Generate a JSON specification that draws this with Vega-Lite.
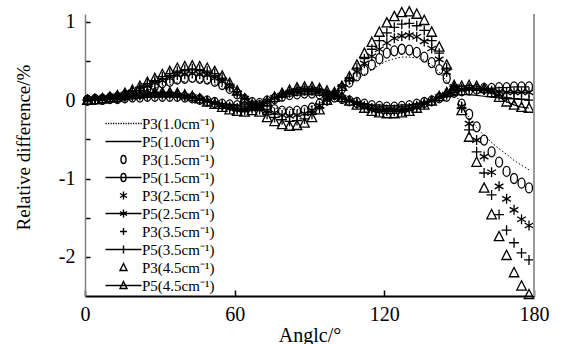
{
"$schema":"https://vega.github.io/schema/vega-lite/v6.json",
"width":449,"height":282,
"autosize":{"type":"none"},
"padding":{"left":85,"top":14,"right":32,"bottom":48},
"background":"white",
"config":{"view":{"stroke":null},"font":"Liberation Serif","axis":{"labelFont":"Liberation Serif","titleFont":"Liberation Serif"},"legend":{"labelFont":"Liberation Serif"}},
"resolve":{"scale":{"shape":"independent","strokeWidth":"independent"},"legend":{"shape":"independent"}},
"data":{"values":[
{"s":"P3(1.0cm⁻¹)","a":1,"v":0},{"s":"P3(1.0cm⁻¹)","a":4,"v":0.01},{"s":"P3(1.0cm⁻¹)","a":7,"v":0.01},{"s":"P3(1.0cm⁻¹)","a":10,"v":0.02},{"s":"P3(1.0cm⁻¹)","a":13,"v":0.03},{"s":"P3(1.0cm⁻¹)","a":16,"v":0.05},{"s":"P3(1.0cm⁻¹)","a":19,"v":0.07},{"s":"P3(1.0cm⁻¹)","a":22,"v":0.1},{"s":"P3(1.0cm⁻¹)","a":25,"v":0.13},{"s":"P3(1.0cm⁻¹)","a":28,"v":0.15},{"s":"P3(1.0cm⁻¹)","a":31,"v":0.18},{"s":"P3(1.0cm⁻¹)","a":34,"v":0.2},{"s":"P3(1.0cm⁻¹)","a":37,"v":0.23},{"s":"P3(1.0cm⁻¹)","a":40,"v":0.24},{"s":"P3(1.0cm⁻¹)","a":43,"v":0.24},{"s":"P3(1.0cm⁻¹)","a":46,"v":0.24},{"s":"P3(1.0cm⁻¹)","a":49,"v":0.23},{"s":"P3(1.0cm⁻¹)","a":52,"v":0.2},{"s":"P3(1.0cm⁻¹)","a":55,"v":0.17},{"s":"P3(1.0cm⁻¹)","a":58,"v":0.12},{"s":"P3(1.0cm⁻¹)","a":61,"v":0.07},{"s":"P3(1.0cm⁻¹)","a":64,"v":0.01},{"s":"P3(1.0cm⁻¹)","a":67,"v":-0.03},{"s":"P3(1.0cm⁻¹)","a":70,"v":-0.05},{"s":"P3(1.0cm⁻¹)","a":73,"v":-0.08},{"s":"P3(1.0cm⁻¹)","a":76,"v":-0.1},{"s":"P3(1.0cm⁻¹)","a":79,"v":-0.11},{"s":"P3(1.0cm⁻¹)","a":82,"v":-0.12},{"s":"P3(1.0cm⁻¹)","a":85,"v":-0.12},{"s":"P3(1.0cm⁻¹)","a":88,"v":-0.1},{"s":"P3(1.0cm⁻¹)","a":91,"v":-0.08},{"s":"P3(1.0cm⁻¹)","a":94,"v":-0.04},{"s":"P3(1.0cm⁻¹)","a":97,"v":0},{"s":"P3(1.0cm⁻¹)","a":100,"v":0.06},{"s":"P3(1.0cm⁻¹)","a":103,"v":0.13},{"s":"P3(1.0cm⁻¹)","a":106,"v":0.2},{"s":"P3(1.0cm⁻¹)","a":109,"v":0.27},{"s":"P3(1.0cm⁻¹)","a":112,"v":0.33},{"s":"P3(1.0cm⁻¹)","a":115,"v":0.39},{"s":"P3(1.0cm⁻¹)","a":118,"v":0.45},{"s":"P3(1.0cm⁻¹)","a":121,"v":0.5},{"s":"P3(1.0cm⁻¹)","a":124,"v":0.53},{"s":"P3(1.0cm⁻¹)","a":127,"v":0.55},{"s":"P3(1.0cm⁻¹)","a":130,"v":0.55},{"s":"P3(1.0cm⁻¹)","a":133,"v":0.54},{"s":"P3(1.0cm⁻¹)","a":136,"v":0.51},{"s":"P3(1.0cm⁻¹)","a":139,"v":0.45},{"s":"P3(1.0cm⁻¹)","a":142,"v":0.36},{"s":"P3(1.0cm⁻¹)","a":145,"v":0.24},{"s":"P3(1.0cm⁻¹)","a":148,"v":0.1},{"s":"P3(1.0cm⁻¹)","a":151,"v":-0.06},{"s":"P3(1.0cm⁻¹)","a":154,"v":-0.22},{"s":"P3(1.0cm⁻¹)","a":157,"v":-0.35},{"s":"P3(1.0cm⁻¹)","a":160,"v":-0.45},{"s":"P3(1.0cm⁻¹)","a":163,"v":-0.54},{"s":"P3(1.0cm⁻¹)","a":166,"v":-0.62},{"s":"P3(1.0cm⁻¹)","a":169,"v":-0.69},{"s":"P3(1.0cm⁻¹)","a":172,"v":-0.77},{"s":"P3(1.0cm⁻¹)","a":175,"v":-0.83},{"s":"P3(1.0cm⁻¹)","a":178,"v":-0.89},
{"s":"P5(1.0cm⁻¹)","a":1,"v":0},{"s":"P5(1.0cm⁻¹)","a":4,"v":0},{"s":"P5(1.0cm⁻¹)","a":7,"v":0.01},{"s":"P5(1.0cm⁻¹)","a":10,"v":0.01},{"s":"P5(1.0cm⁻¹)","a":13,"v":0.02},{"s":"P5(1.0cm⁻¹)","a":16,"v":0.02},{"s":"P5(1.0cm⁻¹)","a":19,"v":0.03},{"s":"P5(1.0cm⁻¹)","a":22,"v":0.03},{"s":"P5(1.0cm⁻¹)","a":25,"v":0.04},{"s":"P5(1.0cm⁻¹)","a":28,"v":0.04},{"s":"P5(1.0cm⁻¹)","a":31,"v":0.04},{"s":"P5(1.0cm⁻¹)","a":34,"v":0.04},{"s":"P5(1.0cm⁻¹)","a":37,"v":0.04},{"s":"P5(1.0cm⁻¹)","a":40,"v":0.03},{"s":"P5(1.0cm⁻¹)","a":43,"v":0.02},{"s":"P5(1.0cm⁻¹)","a":46,"v":0.01},{"s":"P5(1.0cm⁻¹)","a":49,"v":-0.01},{"s":"P5(1.0cm⁻¹)","a":52,"v":-0.02},{"s":"P5(1.0cm⁻¹)","a":55,"v":-0.04},{"s":"P5(1.0cm⁻¹)","a":58,"v":-0.05},{"s":"P5(1.0cm⁻¹)","a":61,"v":-0.06},{"s":"P5(1.0cm⁻¹)","a":64,"v":-0.06},{"s":"P5(1.0cm⁻¹)","a":67,"v":-0.05},{"s":"P5(1.0cm⁻¹)","a":70,"v":-0.03},{"s":"P5(1.0cm⁻¹)","a":73,"v":-0.01},{"s":"P5(1.0cm⁻¹)","a":76,"v":0.02},{"s":"P5(1.0cm⁻¹)","a":79,"v":0.04},{"s":"P5(1.0cm⁻¹)","a":82,"v":0.05},{"s":"P5(1.0cm⁻¹)","a":85,"v":0.06},{"s":"P5(1.0cm⁻¹)","a":88,"v":0.07},{"s":"P5(1.0cm⁻¹)","a":91,"v":0.07},{"s":"P5(1.0cm⁻¹)","a":94,"v":0.06},{"s":"P5(1.0cm⁻¹)","a":97,"v":0.05},{"s":"P5(1.0cm⁻¹)","a":100,"v":0.03},{"s":"P5(1.0cm⁻¹)","a":103,"v":0.02},{"s":"P5(1.0cm⁻¹)","a":106,"v":0},{"s":"P5(1.0cm⁻¹)","a":109,"v":-0.02},{"s":"P5(1.0cm⁻¹)","a":112,"v":-0.04},{"s":"P5(1.0cm⁻¹)","a":115,"v":-0.06},{"s":"P5(1.0cm⁻¹)","a":118,"v":-0.06},{"s":"P5(1.0cm⁻¹)","a":121,"v":-0.07},{"s":"P5(1.0cm⁻¹)","a":124,"v":-0.07},{"s":"P5(1.0cm⁻¹)","a":127,"v":-0.06},{"s":"P5(1.0cm⁻¹)","a":130,"v":-0.06},{"s":"P5(1.0cm⁻¹)","a":133,"v":-0.04},{"s":"P5(1.0cm⁻¹)","a":136,"v":-0.02},{"s":"P5(1.0cm⁻¹)","a":139,"v":0},{"s":"P5(1.0cm⁻¹)","a":142,"v":0.02},{"s":"P5(1.0cm⁻¹)","a":145,"v":0.04},{"s":"P5(1.0cm⁻¹)","a":148,"v":0.06},{"s":"P5(1.0cm⁻¹)","a":151,"v":0.07},{"s":"P5(1.0cm⁻¹)","a":154,"v":0.07},{"s":"P5(1.0cm⁻¹)","a":157,"v":0.06},{"s":"P5(1.0cm⁻¹)","a":160,"v":0.05},{"s":"P5(1.0cm⁻¹)","a":163,"v":0.04},{"s":"P5(1.0cm⁻¹)","a":166,"v":0.03},{"s":"P5(1.0cm⁻¹)","a":169,"v":0.02},{"s":"P5(1.0cm⁻¹)","a":172,"v":0.02},{"s":"P5(1.0cm⁻¹)","a":175,"v":0.01},{"s":"P5(1.0cm⁻¹)","a":178,"v":0.01},
{"s":"P3(1.5cm⁻¹)","a":1,"v":0},{"s":"P3(1.5cm⁻¹)","a":4,"v":0.01},{"s":"P3(1.5cm⁻¹)","a":7,"v":0.01},{"s":"P3(1.5cm⁻¹)","a":10,"v":0.03},{"s":"P3(1.5cm⁻¹)","a":13,"v":0.04},{"s":"P3(1.5cm⁻¹)","a":16,"v":0.06},{"s":"P3(1.5cm⁻¹)","a":19,"v":0.09},{"s":"P3(1.5cm⁻¹)","a":22,"v":0.12},{"s":"P3(1.5cm⁻¹)","a":25,"v":0.15},{"s":"P3(1.5cm⁻¹)","a":28,"v":0.18},{"s":"P3(1.5cm⁻¹)","a":31,"v":0.22},{"s":"P3(1.5cm⁻¹)","a":34,"v":0.24},{"s":"P3(1.5cm⁻¹)","a":37,"v":0.27},{"s":"P3(1.5cm⁻¹)","a":40,"v":0.28},{"s":"P3(1.5cm⁻¹)","a":43,"v":0.29},{"s":"P3(1.5cm⁻¹)","a":46,"v":0.28},{"s":"P3(1.5cm⁻¹)","a":49,"v":0.27},{"s":"P3(1.5cm⁻¹)","a":52,"v":0.24},{"s":"P3(1.5cm⁻¹)","a":55,"v":0.2},{"s":"P3(1.5cm⁻¹)","a":58,"v":0.15},{"s":"P3(1.5cm⁻¹)","a":61,"v":0.08},{"s":"P3(1.5cm⁻¹)","a":64,"v":0.01},{"s":"P3(1.5cm⁻¹)","a":67,"v":-0.03},{"s":"P3(1.5cm⁻¹)","a":70,"v":-0.07},{"s":"P3(1.5cm⁻¹)","a":73,"v":-0.1},{"s":"P3(1.5cm⁻¹)","a":76,"v":-0.12},{"s":"P3(1.5cm⁻¹)","a":79,"v":-0.14},{"s":"P3(1.5cm⁻¹)","a":82,"v":-0.15},{"s":"P3(1.5cm⁻¹)","a":85,"v":-0.14},{"s":"P3(1.5cm⁻¹)","a":88,"v":-0.13},{"s":"P3(1.5cm⁻¹)","a":91,"v":-0.1},{"s":"P3(1.5cm⁻¹)","a":94,"v":-0.05},{"s":"P3(1.5cm⁻¹)","a":97,"v":0},{"s":"P3(1.5cm⁻¹)","a":100,"v":0.07},{"s":"P3(1.5cm⁻¹)","a":103,"v":0.15},{"s":"P3(1.5cm⁻¹)","a":106,"v":0.23},{"s":"P3(1.5cm⁻¹)","a":109,"v":0.31},{"s":"P3(1.5cm⁻¹)","a":112,"v":0.38},{"s":"P3(1.5cm⁻¹)","a":115,"v":0.45},{"s":"P3(1.5cm⁻¹)","a":118,"v":0.53},{"s":"P3(1.5cm⁻¹)","a":121,"v":0.6},{"s":"P3(1.5cm⁻¹)","a":124,"v":0.63},{"s":"P3(1.5cm⁻¹)","a":127,"v":0.65},{"s":"P3(1.5cm⁻¹)","a":130,"v":0.64},{"s":"P3(1.5cm⁻¹)","a":133,"v":0.61},{"s":"P3(1.5cm⁻¹)","a":136,"v":0.55},{"s":"P3(1.5cm⁻¹)","a":139,"v":0.48},{"s":"P3(1.5cm⁻¹)","a":142,"v":0.39},{"s":"P3(1.5cm⁻¹)","a":145,"v":0.28},{"s":"P3(1.5cm⁻¹)","a":148,"v":0.13},{"s":"P3(1.5cm⁻¹)","a":151,"v":-0.05},{"s":"P3(1.5cm⁻¹)","a":154,"v":-0.18},{"s":"P3(1.5cm⁻¹)","a":157,"v":-0.34},{"s":"P3(1.5cm⁻¹)","a":160,"v":-0.51},{"s":"P3(1.5cm⁻¹)","a":163,"v":-0.66},{"s":"P3(1.5cm⁻¹)","a":166,"v":-0.79},{"s":"P3(1.5cm⁻¹)","a":169,"v":-0.91},{"s":"P3(1.5cm⁻¹)","a":172,"v":-1.0},{"s":"P3(1.5cm⁻¹)","a":175,"v":-1.06},{"s":"P3(1.5cm⁻¹)","a":178,"v":-1.12},
{"s":"P5(1.5cm⁻¹)","a":1,"v":0},{"s":"P5(1.5cm⁻¹)","a":4,"v":0.01},{"s":"P5(1.5cm⁻¹)","a":7,"v":0.01},{"s":"P5(1.5cm⁻¹)","a":10,"v":0.02},{"s":"P5(1.5cm⁻¹)","a":13,"v":0.02},{"s":"P5(1.5cm⁻¹)","a":16,"v":0.03},{"s":"P5(1.5cm⁻¹)","a":19,"v":0.04},{"s":"P5(1.5cm⁻¹)","a":22,"v":0.04},{"s":"P5(1.5cm⁻¹)","a":25,"v":0.05},{"s":"P5(1.5cm⁻¹)","a":28,"v":0.05},{"s":"P5(1.5cm⁻¹)","a":31,"v":0.05},{"s":"P5(1.5cm⁻¹)","a":34,"v":0.05},{"s":"P5(1.5cm⁻¹)","a":37,"v":0.05},{"s":"P5(1.5cm⁻¹)","a":40,"v":0.04},{"s":"P5(1.5cm⁻¹)","a":43,"v":0.03},{"s":"P5(1.5cm⁻¹)","a":46,"v":0.01},{"s":"P5(1.5cm⁻¹)","a":49,"v":-0.01},{"s":"P5(1.5cm⁻¹)","a":52,"v":-0.03},{"s":"P5(1.5cm⁻¹)","a":55,"v":-0.05},{"s":"P5(1.5cm⁻¹)","a":58,"v":-0.06},{"s":"P5(1.5cm⁻¹)","a":61,"v":-0.07},{"s":"P5(1.5cm⁻¹)","a":64,"v":-0.08},{"s":"P5(1.5cm⁻¹)","a":67,"v":-0.07},{"s":"P5(1.5cm⁻¹)","a":70,"v":-0.04},{"s":"P5(1.5cm⁻¹)","a":73,"v":-0.01},{"s":"P5(1.5cm⁻¹)","a":76,"v":0.02},{"s":"P5(1.5cm⁻¹)","a":79,"v":0.05},{"s":"P5(1.5cm⁻¹)","a":82,"v":0.07},{"s":"P5(1.5cm⁻¹)","a":85,"v":0.08},{"s":"P5(1.5cm⁻¹)","a":88,"v":0.09},{"s":"P5(1.5cm⁻¹)","a":91,"v":0.09},{"s":"P5(1.5cm⁻¹)","a":94,"v":0.08},{"s":"P5(1.5cm⁻¹)","a":97,"v":0.06},{"s":"P5(1.5cm⁻¹)","a":100,"v":0.04},{"s":"P5(1.5cm⁻¹)","a":103,"v":0.02},{"s":"P5(1.5cm⁻¹)","a":106,"v":-0.01},{"s":"P5(1.5cm⁻¹)","a":109,"v":-0.03},{"s":"P5(1.5cm⁻¹)","a":112,"v":-0.05},{"s":"P5(1.5cm⁻¹)","a":115,"v":-0.07},{"s":"P5(1.5cm⁻¹)","a":118,"v":-0.08},{"s":"P5(1.5cm⁻¹)","a":121,"v":-0.09},{"s":"P5(1.5cm⁻¹)","a":124,"v":-0.09},{"s":"P5(1.5cm⁻¹)","a":127,"v":-0.08},{"s":"P5(1.5cm⁻¹)","a":130,"v":-0.07},{"s":"P5(1.5cm⁻¹)","a":133,"v":-0.05},{"s":"P5(1.5cm⁻¹)","a":136,"v":-0.03},{"s":"P5(1.5cm⁻¹)","a":139,"v":-0.01},{"s":"P5(1.5cm⁻¹)","a":142,"v":0.03},{"s":"P5(1.5cm⁻¹)","a":145,"v":0.05},{"s":"P5(1.5cm⁻¹)","a":148,"v":0.1},{"s":"P5(1.5cm⁻¹)","a":151,"v":0.12},{"s":"P5(1.5cm⁻¹)","a":154,"v":0.13},{"s":"P5(1.5cm⁻¹)","a":157,"v":0.14},{"s":"P5(1.5cm⁻¹)","a":160,"v":0.15},{"s":"P5(1.5cm⁻¹)","a":163,"v":0.15},{"s":"P5(1.5cm⁻¹)","a":166,"v":0.16},{"s":"P5(1.5cm⁻¹)","a":169,"v":0.16},{"s":"P5(1.5cm⁻¹)","a":172,"v":0.17},{"s":"P5(1.5cm⁻¹)","a":175,"v":0.17},{"s":"P5(1.5cm⁻¹)","a":178,"v":0.17},
{"s":"P3(2.5cm⁻¹)","a":1,"v":0},{"s":"P3(2.5cm⁻¹)","a":4,"v":0.01},{"s":"P3(2.5cm⁻¹)","a":7,"v":0.02},{"s":"P3(2.5cm⁻¹)","a":10,"v":0.03},{"s":"P3(2.5cm⁻¹)","a":13,"v":0.05},{"s":"P3(2.5cm⁻¹)","a":16,"v":0.07},{"s":"P3(2.5cm⁻¹)","a":19,"v":0.1},{"s":"P3(2.5cm⁻¹)","a":22,"v":0.14},{"s":"P3(2.5cm⁻¹)","a":25,"v":0.18},{"s":"P3(2.5cm⁻¹)","a":28,"v":0.22},{"s":"P3(2.5cm⁻¹)","a":31,"v":0.25},{"s":"P3(2.5cm⁻¹)","a":34,"v":0.28},{"s":"P3(2.5cm⁻¹)","a":37,"v":0.32},{"s":"P3(2.5cm⁻¹)","a":40,"v":0.33},{"s":"P3(2.5cm⁻¹)","a":43,"v":0.34},{"s":"P3(2.5cm⁻¹)","a":46,"v":0.33},{"s":"P3(2.5cm⁻¹)","a":49,"v":0.32},{"s":"P3(2.5cm⁻¹)","a":52,"v":0.28},{"s":"P3(2.5cm⁻¹)","a":55,"v":0.24},{"s":"P3(2.5cm⁻¹)","a":58,"v":0.17},{"s":"P3(2.5cm⁻¹)","a":61,"v":0.09},{"s":"P3(2.5cm⁻¹)","a":64,"v":0.02},{"s":"P3(2.5cm⁻¹)","a":67,"v":-0.04},{"s":"P3(2.5cm⁻¹)","a":70,"v":-0.09},{"s":"P3(2.5cm⁻¹)","a":73,"v":-0.13},{"s":"P3(2.5cm⁻¹)","a":76,"v":-0.16},{"s":"P3(2.5cm⁻¹)","a":79,"v":-0.19},{"s":"P3(2.5cm⁻¹)","a":82,"v":-0.2},{"s":"P3(2.5cm⁻¹)","a":85,"v":-0.19},{"s":"P3(2.5cm⁻¹)","a":88,"v":-0.17},{"s":"P3(2.5cm⁻¹)","a":91,"v":-0.13},{"s":"P3(2.5cm⁻¹)","a":94,"v":-0.07},{"s":"P3(2.5cm⁻¹)","a":97,"v":0},{"s":"P3(2.5cm⁻¹)","a":100,"v":0.08},{"s":"P3(2.5cm⁻¹)","a":103,"v":0.17},{"s":"P3(2.5cm⁻¹)","a":106,"v":0.26},{"s":"P3(2.5cm⁻¹)","a":109,"v":0.36},{"s":"P3(2.5cm⁻¹)","a":112,"v":0.47},{"s":"P3(2.5cm⁻¹)","a":115,"v":0.56},{"s":"P3(2.5cm⁻¹)","a":118,"v":0.65},{"s":"P3(2.5cm⁻¹)","a":121,"v":0.73},{"s":"P3(2.5cm⁻¹)","a":124,"v":0.79},{"s":"P3(2.5cm⁻¹)","a":127,"v":0.82},{"s":"P3(2.5cm⁻¹)","a":130,"v":0.83},{"s":"P3(2.5cm⁻¹)","a":133,"v":0.81},{"s":"P3(2.5cm⁻¹)","a":136,"v":0.75},{"s":"P3(2.5cm⁻¹)","a":139,"v":0.66},{"s":"P3(2.5cm⁻¹)","a":142,"v":0.52},{"s":"P3(2.5cm⁻¹)","a":145,"v":0.36},{"s":"P3(2.5cm⁻¹)","a":148,"v":0.17},{"s":"P3(2.5cm⁻¹)","a":151,"v":-0.08},{"s":"P3(2.5cm⁻¹)","a":154,"v":-0.3},{"s":"P3(2.5cm⁻¹)","a":157,"v":-0.51},{"s":"P3(2.5cm⁻¹)","a":160,"v":-0.72},{"s":"P3(2.5cm⁻¹)","a":163,"v":-0.92},{"s":"P3(2.5cm⁻¹)","a":166,"v":-1.1},{"s":"P3(2.5cm⁻¹)","a":169,"v":-1.26},{"s":"P3(2.5cm⁻¹)","a":172,"v":-1.4},{"s":"P3(2.5cm⁻¹)","a":175,"v":-1.52},{"s":"P3(2.5cm⁻¹)","a":178,"v":-1.6},
{"s":"P5(2.5cm⁻¹)","a":1,"v":0},{"s":"P5(2.5cm⁻¹)","a":4,"v":0.01},{"s":"P5(2.5cm⁻¹)","a":7,"v":0.01},{"s":"P5(2.5cm⁻¹)","a":10,"v":0.02},{"s":"P5(2.5cm⁻¹)","a":13,"v":0.03},{"s":"P5(2.5cm⁻¹)","a":16,"v":0.04},{"s":"P5(2.5cm⁻¹)","a":19,"v":0.05},{"s":"P5(2.5cm⁻¹)","a":22,"v":0.06},{"s":"P5(2.5cm⁻¹)","a":25,"v":0.06},{"s":"P5(2.5cm⁻¹)","a":28,"v":0.07},{"s":"P5(2.5cm⁻¹)","a":31,"v":0.07},{"s":"P5(2.5cm⁻¹)","a":34,"v":0.07},{"s":"P5(2.5cm⁻¹)","a":37,"v":0.06},{"s":"P5(2.5cm⁻¹)","a":40,"v":0.05},{"s":"P5(2.5cm⁻¹)","a":43,"v":0.04},{"s":"P5(2.5cm⁻¹)","a":46,"v":0.01},{"s":"P5(2.5cm⁻¹)","a":49,"v":-0.01},{"s":"P5(2.5cm⁻¹)","a":52,"v":-0.04},{"s":"P5(2.5cm⁻¹)","a":55,"v":-0.06},{"s":"P5(2.5cm⁻¹)","a":58,"v":-0.08},{"s":"P5(2.5cm⁻¹)","a":61,"v":-0.1},{"s":"P5(2.5cm⁻¹)","a":64,"v":-0.11},{"s":"P5(2.5cm⁻¹)","a":67,"v":-0.09},{"s":"P5(2.5cm⁻¹)","a":70,"v":-0.06},{"s":"P5(2.5cm⁻¹)","a":73,"v":-0.01},{"s":"P5(2.5cm⁻¹)","a":76,"v":0.03},{"s":"P5(2.5cm⁻¹)","a":79,"v":0.06},{"s":"P5(2.5cm⁻¹)","a":82,"v":0.09},{"s":"P5(2.5cm⁻¹)","a":85,"v":0.11},{"s":"P5(2.5cm⁻¹)","a":88,"v":0.12},{"s":"P5(2.5cm⁻¹)","a":91,"v":0.12},{"s":"P5(2.5cm⁻¹)","a":94,"v":0.11},{"s":"P5(2.5cm⁻¹)","a":97,"v":0.08},{"s":"P5(2.5cm⁻¹)","a":100,"v":0.06},{"s":"P5(2.5cm⁻¹)","a":103,"v":0.03},{"s":"P5(2.5cm⁻¹)","a":106,"v":-0.01},{"s":"P5(2.5cm⁻¹)","a":109,"v":-0.04},{"s":"P5(2.5cm⁻¹)","a":112,"v":-0.07},{"s":"P5(2.5cm⁻¹)","a":115,"v":-0.1},{"s":"P5(2.5cm⁻¹)","a":118,"v":-0.11},{"s":"P5(2.5cm⁻¹)","a":121,"v":-0.12},{"s":"P5(2.5cm⁻¹)","a":124,"v":-0.12},{"s":"P5(2.5cm⁻¹)","a":127,"v":-0.11},{"s":"P5(2.5cm⁻¹)","a":130,"v":-0.1},{"s":"P5(2.5cm⁻¹)","a":133,"v":-0.07},{"s":"P5(2.5cm⁻¹)","a":136,"v":-0.04},{"s":"P5(2.5cm⁻¹)","a":139,"v":-0.01},{"s":"P5(2.5cm⁻¹)","a":142,"v":0.04},{"s":"P5(2.5cm⁻¹)","a":145,"v":0.07},{"s":"P5(2.5cm⁻¹)","a":148,"v":0.11},{"s":"P5(2.5cm⁻¹)","a":151,"v":0.13},{"s":"P5(2.5cm⁻¹)","a":154,"v":0.14},{"s":"P5(2.5cm⁻¹)","a":157,"v":0.14},{"s":"P5(2.5cm⁻¹)","a":160,"v":0.13},{"s":"P5(2.5cm⁻¹)","a":163,"v":0.12},{"s":"P5(2.5cm⁻¹)","a":166,"v":0.11},{"s":"P5(2.5cm⁻¹)","a":169,"v":0.1},{"s":"P5(2.5cm⁻¹)","a":172,"v":0.1},{"s":"P5(2.5cm⁻¹)","a":175,"v":0.1},{"s":"P5(2.5cm⁻¹)","a":178,"v":0.1},
{"s":"P3(3.5cm⁻¹)","a":1,"v":0},{"s":"P3(3.5cm⁻¹)","a":4,"v":0.01},{"s":"P3(3.5cm⁻¹)","a":7,"v":0.02},{"s":"P3(3.5cm⁻¹)","a":10,"v":0.04},{"s":"P3(3.5cm⁻¹)","a":13,"v":0.05},{"s":"P3(3.5cm⁻¹)","a":16,"v":0.08},{"s":"P3(3.5cm⁻¹)","a":19,"v":0.12},{"s":"P3(3.5cm⁻¹)","a":22,"v":0.16},{"s":"P3(3.5cm⁻¹)","a":25,"v":0.21},{"s":"P3(3.5cm⁻¹)","a":28,"v":0.25},{"s":"P3(3.5cm⁻¹)","a":31,"v":0.3},{"s":"P3(3.5cm⁻¹)","a":34,"v":0.34},{"s":"P3(3.5cm⁻¹)","a":37,"v":0.37},{"s":"P3(3.5cm⁻¹)","a":40,"v":0.39},{"s":"P3(3.5cm⁻¹)","a":43,"v":0.4},{"s":"P3(3.5cm⁻¹)","a":46,"v":0.39},{"s":"P3(3.5cm⁻¹)","a":49,"v":0.37},{"s":"P3(3.5cm⁻¹)","a":52,"v":0.34},{"s":"P3(3.5cm⁻¹)","a":55,"v":0.28},{"s":"P3(3.5cm⁻¹)","a":58,"v":0.2},{"s":"P3(3.5cm⁻¹)","a":61,"v":0.11},{"s":"P3(3.5cm⁻¹)","a":64,"v":0.02},{"s":"P3(3.5cm⁻¹)","a":67,"v":-0.06},{"s":"P3(3.5cm⁻¹)","a":70,"v":-0.12},{"s":"P3(3.5cm⁻¹)","a":73,"v":-0.18},{"s":"P3(3.5cm⁻¹)","a":76,"v":-0.22},{"s":"P3(3.5cm⁻¹)","a":79,"v":-0.25},{"s":"P3(3.5cm⁻¹)","a":82,"v":-0.27},{"s":"P3(3.5cm⁻¹)","a":85,"v":-0.26},{"s":"P3(3.5cm⁻¹)","a":88,"v":-0.24},{"s":"P3(3.5cm⁻¹)","a":91,"v":-0.18},{"s":"P3(3.5cm⁻¹)","a":94,"v":-0.1},{"s":"P3(3.5cm⁻¹)","a":97,"v":0},{"s":"P3(3.5cm⁻¹)","a":100,"v":0.09},{"s":"P3(3.5cm⁻¹)","a":103,"v":0.18},{"s":"P3(3.5cm⁻¹)","a":106,"v":0.28},{"s":"P3(3.5cm⁻¹)","a":109,"v":0.41},{"s":"P3(3.5cm⁻¹)","a":112,"v":0.53},{"s":"P3(3.5cm⁻¹)","a":115,"v":0.65},{"s":"P3(3.5cm⁻¹)","a":118,"v":0.76},{"s":"P3(3.5cm⁻¹)","a":121,"v":0.86},{"s":"P3(3.5cm⁻¹)","a":124,"v":0.93},{"s":"P3(3.5cm⁻¹)","a":127,"v":0.97},{"s":"P3(3.5cm⁻¹)","a":130,"v":0.98},{"s":"P3(3.5cm⁻¹)","a":133,"v":0.95},{"s":"P3(3.5cm⁻¹)","a":136,"v":0.89},{"s":"P3(3.5cm⁻¹)","a":139,"v":0.76},{"s":"P3(3.5cm⁻¹)","a":142,"v":0.6},{"s":"P3(3.5cm⁻¹)","a":145,"v":0.41},{"s":"P3(3.5cm⁻¹)","a":148,"v":0.18},{"s":"P3(3.5cm⁻¹)","a":151,"v":-0.1},{"s":"P3(3.5cm⁻¹)","a":154,"v":-0.38},{"s":"P3(3.5cm⁻¹)","a":157,"v":-0.66},{"s":"P3(3.5cm⁻¹)","a":160,"v":-0.93},{"s":"P3(3.5cm⁻¹)","a":163,"v":-1.21},{"s":"P3(3.5cm⁻¹)","a":166,"v":-1.46},{"s":"P3(3.5cm⁻¹)","a":169,"v":-1.66},{"s":"P3(3.5cm⁻¹)","a":172,"v":-1.82},{"s":"P3(3.5cm⁻¹)","a":175,"v":-1.95},{"s":"P3(3.5cm⁻¹)","a":178,"v":-2.04},
{"s":"P5(3.5cm⁻¹)","a":1,"v":0},{"s":"P5(3.5cm⁻¹)","a":4,"v":0.01},{"s":"P5(3.5cm⁻¹)","a":7,"v":0.02},{"s":"P5(3.5cm⁻¹)","a":10,"v":0.03},{"s":"P5(3.5cm⁻¹)","a":13,"v":0.03},{"s":"P5(3.5cm⁻¹)","a":16,"v":0.05},{"s":"P5(3.5cm⁻¹)","a":19,"v":0.06},{"s":"P5(3.5cm⁻¹)","a":22,"v":0.07},{"s":"P5(3.5cm⁻¹)","a":25,"v":0.08},{"s":"P5(3.5cm⁻¹)","a":28,"v":0.09},{"s":"P5(3.5cm⁻¹)","a":31,"v":0.09},{"s":"P5(3.5cm⁻¹)","a":34,"v":0.09},{"s":"P5(3.5cm⁻¹)","a":37,"v":0.08},{"s":"P5(3.5cm⁻¹)","a":40,"v":0.06},{"s":"P5(3.5cm⁻¹)","a":43,"v":0.04},{"s":"P5(3.5cm⁻¹)","a":46,"v":0.02},{"s":"P5(3.5cm⁻¹)","a":49,"v":-0.02},{"s":"P5(3.5cm⁻¹)","a":52,"v":-0.04},{"s":"P5(3.5cm⁻¹)","a":55,"v":-0.08},{"s":"P5(3.5cm⁻¹)","a":58,"v":-0.1},{"s":"P5(3.5cm⁻¹)","a":61,"v":-0.12},{"s":"P5(3.5cm⁻¹)","a":64,"v":-0.13},{"s":"P5(3.5cm⁻¹)","a":67,"v":-0.11},{"s":"P5(3.5cm⁻¹)","a":70,"v":-0.07},{"s":"P5(3.5cm⁻¹)","a":73,"v":-0.02},{"s":"P5(3.5cm⁻¹)","a":76,"v":0.03},{"s":"P5(3.5cm⁻¹)","a":79,"v":0.08},{"s":"P5(3.5cm⁻¹)","a":82,"v":0.11},{"s":"P5(3.5cm⁻¹)","a":85,"v":0.14},{"s":"P5(3.5cm⁻¹)","a":88,"v":0.14},{"s":"P5(3.5cm⁻¹)","a":91,"v":0.14},{"s":"P5(3.5cm⁻¹)","a":94,"v":0.13},{"s":"P5(3.5cm⁻¹)","a":97,"v":0.1},{"s":"P5(3.5cm⁻¹)","a":100,"v":0.07},{"s":"P5(3.5cm⁻¹)","a":103,"v":0.03},{"s":"P5(3.5cm⁻¹)","a":106,"v":-0.01},{"s":"P5(3.5cm⁻¹)","a":109,"v":-0.05},{"s":"P5(3.5cm⁻¹)","a":112,"v":-0.09},{"s":"P5(3.5cm⁻¹)","a":115,"v":-0.12},{"s":"P5(3.5cm⁻¹)","a":118,"v":-0.14},{"s":"P5(3.5cm⁻¹)","a":121,"v":-0.14},{"s":"P5(3.5cm⁻¹)","a":124,"v":-0.14},{"s":"P5(3.5cm⁻¹)","a":127,"v":-0.14},{"s":"P5(3.5cm⁻¹)","a":130,"v":-0.12},{"s":"P5(3.5cm⁻¹)","a":133,"v":-0.09},{"s":"P5(3.5cm⁻¹)","a":136,"v":-0.05},{"s":"P5(3.5cm⁻¹)","a":139,"v":-0.01},{"s":"P5(3.5cm⁻¹)","a":142,"v":0.04},{"s":"P5(3.5cm⁻¹)","a":145,"v":0.09},{"s":"P5(3.5cm⁻¹)","a":148,"v":0.13},{"s":"P5(3.5cm⁻¹)","a":151,"v":0.15},{"s":"P5(3.5cm⁻¹)","a":154,"v":0.16},{"s":"P5(3.5cm⁻¹)","a":157,"v":0.15},{"s":"P5(3.5cm⁻¹)","a":160,"v":0.13},{"s":"P5(3.5cm⁻¹)","a":163,"v":0.09},{"s":"P5(3.5cm⁻¹)","a":166,"v":0.06},{"s":"P5(3.5cm⁻¹)","a":169,"v":0.03},{"s":"P5(3.5cm⁻¹)","a":172,"v":0.02},{"s":"P5(3.5cm⁻¹)","a":175,"v":0.01},{"s":"P5(3.5cm⁻¹)","a":178,"v":0},
{"s":"P3(4.5cm⁻¹)","a":1,"v":0},{"s":"P3(4.5cm⁻¹)","a":4,"v":0.01},{"s":"P3(4.5cm⁻¹)","a":7,"v":0.02},{"s":"P3(4.5cm⁻¹)","a":10,"v":0.04},{"s":"P3(4.5cm⁻¹)","a":13,"v":0.06},{"s":"P3(4.5cm⁻¹)","a":16,"v":0.09},{"s":"P3(4.5cm⁻¹)","a":19,"v":0.13},{"s":"P3(4.5cm⁻¹)","a":22,"v":0.18},{"s":"P3(4.5cm⁻¹)","a":25,"v":0.23},{"s":"P3(4.5cm⁻¹)","a":28,"v":0.28},{"s":"P3(4.5cm⁻¹)","a":31,"v":0.33},{"s":"P3(4.5cm⁻¹)","a":34,"v":0.37},{"s":"P3(4.5cm⁻¹)","a":37,"v":0.41},{"s":"P3(4.5cm⁻¹)","a":40,"v":0.43},{"s":"P3(4.5cm⁻¹)","a":43,"v":0.44},{"s":"P3(4.5cm⁻¹)","a":46,"v":0.43},{"s":"P3(4.5cm⁻¹)","a":49,"v":0.41},{"s":"P3(4.5cm⁻¹)","a":52,"v":0.37},{"s":"P3(4.5cm⁻¹)","a":55,"v":0.31},{"s":"P3(4.5cm⁻¹)","a":58,"v":0.22},{"s":"P3(4.5cm⁻¹)","a":61,"v":0.12},{"s":"P3(4.5cm⁻¹)","a":64,"v":0.02},{"s":"P3(4.5cm⁻¹)","a":67,"v":-0.07},{"s":"P3(4.5cm⁻¹)","a":70,"v":-0.15},{"s":"P3(4.5cm⁻¹)","a":73,"v":-0.22},{"s":"P3(4.5cm⁻¹)","a":76,"v":-0.27},{"s":"P3(4.5cm⁻¹)","a":79,"v":-0.31},{"s":"P3(4.5cm⁻¹)","a":82,"v":-0.33},{"s":"P3(4.5cm⁻¹)","a":85,"v":-0.32},{"s":"P3(4.5cm⁻¹)","a":88,"v":-0.29},{"s":"P3(4.5cm⁻¹)","a":91,"v":-0.22},{"s":"P3(4.5cm⁻¹)","a":94,"v":-0.12},{"s":"P3(4.5cm⁻¹)","a":97,"v":0},{"s":"P3(4.5cm⁻¹)","a":100,"v":0.1},{"s":"P3(4.5cm⁻¹)","a":103,"v":0.18},{"s":"P3(4.5cm⁻¹)","a":106,"v":0.3},{"s":"P3(4.5cm⁻¹)","a":109,"v":0.45},{"s":"P3(4.5cm⁻¹)","a":112,"v":0.6},{"s":"P3(4.5cm⁻¹)","a":115,"v":0.74},{"s":"P3(4.5cm⁻¹)","a":118,"v":0.87},{"s":"P3(4.5cm⁻¹)","a":121,"v":0.99},{"s":"P3(4.5cm⁻¹)","a":124,"v":1.07},{"s":"P3(4.5cm⁻¹)","a":127,"v":1.12},{"s":"P3(4.5cm⁻¹)","a":130,"v":1.13},{"s":"P3(4.5cm⁻¹)","a":133,"v":1.1},{"s":"P3(4.5cm⁻¹)","a":136,"v":1.02},{"s":"P3(4.5cm⁻¹)","a":139,"v":0.87},{"s":"P3(4.5cm⁻¹)","a":142,"v":0.68},{"s":"P3(4.5cm⁻¹)","a":145,"v":0.45},{"s":"P3(4.5cm⁻¹)","a":148,"v":0.19},{"s":"P3(4.5cm⁻¹)","a":151,"v":-0.13},{"s":"P3(4.5cm⁻¹)","a":154,"v":-0.47},{"s":"P3(4.5cm⁻¹)","a":157,"v":-0.79},{"s":"P3(4.5cm⁻¹)","a":160,"v":-1.12},{"s":"P3(4.5cm⁻¹)","a":163,"v":-1.46},{"s":"P3(4.5cm⁻¹)","a":166,"v":-1.74},{"s":"P3(4.5cm⁻¹)","a":169,"v":-1.98},{"s":"P3(4.5cm⁻¹)","a":172,"v":-2.2},{"s":"P3(4.5cm⁻¹)","a":175,"v":-2.37},{"s":"P3(4.5cm⁻¹)","a":178,"v":-2.48},
{"s":"P5(4.5cm⁻¹)","a":1,"v":0},{"s":"P5(4.5cm⁻¹)","a":4,"v":0.01},{"s":"P5(4.5cm⁻¹)","a":7,"v":0.02},{"s":"P5(4.5cm⁻¹)","a":10,"v":0.03},{"s":"P5(4.5cm⁻¹)","a":13,"v":0.04},{"s":"P5(4.5cm⁻¹)","a":16,"v":0.06},{"s":"P5(4.5cm⁻¹)","a":19,"v":0.07},{"s":"P5(4.5cm⁻¹)","a":22,"v":0.08},{"s":"P5(4.5cm⁻¹)","a":25,"v":0.09},{"s":"P5(4.5cm⁻¹)","a":28,"v":0.1},{"s":"P5(4.5cm⁻¹)","a":31,"v":0.1},{"s":"P5(4.5cm⁻¹)","a":34,"v":0.1},{"s":"P5(4.5cm⁻¹)","a":37,"v":0.09},{"s":"P5(4.5cm⁻¹)","a":40,"v":0.07},{"s":"P5(4.5cm⁻¹)","a":43,"v":0.05},{"s":"P5(4.5cm⁻¹)","a":46,"v":0.02},{"s":"P5(4.5cm⁻¹)","a":49,"v":-0.02},{"s":"P5(4.5cm⁻¹)","a":52,"v":-0.05},{"s":"P5(4.5cm⁻¹)","a":55,"v":-0.09},{"s":"P5(4.5cm⁻¹)","a":58,"v":-0.12},{"s":"P5(4.5cm⁻¹)","a":61,"v":-0.14},{"s":"P5(4.5cm⁻¹)","a":64,"v":-0.15},{"s":"P5(4.5cm⁻¹)","a":67,"v":-0.13},{"s":"P5(4.5cm⁻¹)","a":70,"v":-0.08},{"s":"P5(4.5cm⁻¹)","a":73,"v":-0.02},{"s":"P5(4.5cm⁻¹)","a":76,"v":0.04},{"s":"P5(4.5cm⁻¹)","a":79,"v":0.09},{"s":"P5(4.5cm⁻¹)","a":82,"v":0.13},{"s":"P5(4.5cm⁻¹)","a":85,"v":0.16},{"s":"P5(4.5cm⁻¹)","a":88,"v":0.17},{"s":"P5(4.5cm⁻¹)","a":91,"v":0.17},{"s":"P5(4.5cm⁻¹)","a":94,"v":0.15},{"s":"P5(4.5cm⁻¹)","a":97,"v":0.12},{"s":"P5(4.5cm⁻¹)","a":100,"v":0.08},{"s":"P5(4.5cm⁻¹)","a":103,"v":0.04},{"s":"P5(4.5cm⁻¹)","a":106,"v":-0.01},{"s":"P5(4.5cm⁻¹)","a":109,"v":-0.06},{"s":"P5(4.5cm⁻¹)","a":112,"v":-0.1},{"s":"P5(4.5cm⁻¹)","a":115,"v":-0.14},{"s":"P5(4.5cm⁻¹)","a":118,"v":-0.16},{"s":"P5(4.5cm⁻¹)","a":121,"v":-0.17},{"s":"P5(4.5cm⁻¹)","a":124,"v":-0.17},{"s":"P5(4.5cm⁻¹)","a":127,"v":-0.16},{"s":"P5(4.5cm⁻¹)","a":130,"v":-0.14},{"s":"P5(4.5cm⁻¹)","a":133,"v":-0.1},{"s":"P5(4.5cm⁻¹)","a":136,"v":-0.06},{"s":"P5(4.5cm⁻¹)","a":139,"v":-0.01},{"s":"P5(4.5cm⁻¹)","a":142,"v":0.05},{"s":"P5(4.5cm⁻¹)","a":145,"v":0.1},{"s":"P5(4.5cm⁻¹)","a":148,"v":0.15},{"s":"P5(4.5cm⁻¹)","a":151,"v":0.18},{"s":"P5(4.5cm⁻¹)","a":154,"v":0.19},{"s":"P5(4.5cm⁻¹)","a":157,"v":0.18},{"s":"P5(4.5cm⁻¹)","a":160,"v":0.15},{"s":"P5(4.5cm⁻¹)","a":163,"v":0.1},{"s":"P5(4.5cm⁻¹)","a":166,"v":0.04},{"s":"P5(4.5cm⁻¹)","a":169,"v":-0.02},{"s":"P5(4.5cm⁻¹)","a":172,"v":-0.06},{"s":"P5(4.5cm⁻¹)","a":175,"v":-0.09},{"s":"P5(4.5cm⁻¹)","a":178,"v":-0.1}
]},
"encoding":{
"x":{"field":"a","type":"quantitative","scale":{"domain":[0,180],"nice":false,"zero":false},
"axis":{"values":[0,60,120,180],"grid":false,"tickSize":-6,"tickColor":"black","tickWidth":1.5,"domainColor":"black","domainWidth":2,"labelFont":"Liberation Serif","labelFontSize":20,"labelColor":"black","labelFlush":false,"labelOverlap":false,"labelBaseline":"alphabetic","labelPadding":30,"title":"Anglc/°","titleFont":"Liberation Serif","titleFontSize":20,"titleFontWeight":"normal","titleColor":"black","titleBaseline":"alphabetic","titleY":45}},
"y":{"field":"v","type":"quantitative","scale":{"domain":[-2.5,1.1],"nice":false,"zero":false},
"axis":{"values":[-2,-1.5,-1,-0.5,0,0.5,1],"labelExpr":"datum.value % 1 === 0 ? (datum.value < 0 ? '-' + (-datum.value) : '' + datum.value) : ''","grid":false,"tickSize":-5,"tickColor":"black","tickWidth":1.5,"domainColor":"#808080","domainWidth":1.5,"labelFont":"Liberation Serif","labelFontSize":20,"labelColor":"black","labelFlush":false,"labelOverlap":false,"labelPadding":15,"title":"Relative difference/%","titleFont":"Liberation Serif","titleFontSize":19,"titleFontWeight":"normal","titleColor":"black","titleX":-62,"titleY":133,"titleAlign":"center","titleBaseline":"middle","titleAngle":-90}}
},
"layer":[
{"transform":[{"filter":{"field":"s","equal":"P3(1.0cm⁻¹)"}}],
 "mark":{"type":"line","color":"black","strokeWidth":1,"strokeDash":[1.5,2],"clip":false}},
{"transform":[{"filter":{"field":"s","oneOf":["P5(1.0cm⁻¹)","P5(1.5cm⁻¹)","P5(2.5cm⁻¹)","P5(3.5cm⁻¹)","P5(4.5cm⁻¹)"]}}],
 "mark":{"type":"line","color":"black","strokeWidth":1.2,"clip":false},
 "encoding":{"detail":{"field":"s"}}},
{"transform":[{"filter":{"field":"s","oneOf":["P3(1.5cm⁻¹)","P5(1.5cm⁻¹)","P3(2.5cm⁻¹)","P5(2.5cm⁻¹)","P3(3.5cm⁻¹)","P5(3.5cm⁻¹)","P3(4.5cm⁻¹)","P5(4.5cm⁻¹)"]}}],
 "mark":{"type":"point","filled":false,"size":100,"color":"black","opacity":1,"clip":false},
 "encoding":{
  "shape":{"field":"s","type":"nominal","legend":null,
   "scale":{"domain":["P3(1.5cm⁻¹)","P5(1.5cm⁻¹)","P3(2.5cm⁻¹)","P5(2.5cm⁻¹)","P3(3.5cm⁻¹)","P5(3.5cm⁻¹)","P3(4.5cm⁻¹)","P5(4.5cm⁻¹)"],
    "range":["M0,-1A0.7,1 0 1,1 0,1A0.7,1 0 1,1 0,-1Z","M0,-1A0.7,1 0 1,1 0,1A0.7,1 0 1,1 0,-1Z","M0,-1V1M-0.87,-0.5L0.87,0.5M-0.87,0.5L0.87,-0.5","M0,-1V1M-0.87,-0.5L0.87,0.5M-0.87,0.5L0.87,-0.5","M0,-1V1M-1,0H1","M0,-1V1M-1,0H1","M0,-1L0.95,0.85L-0.95,0.85Z","M0,-1L0.95,0.85L-0.95,0.85Z"]}},
  "strokeWidth":{"field":"s","type":"nominal","legend":null,
   "scale":{"domain":["P3(1.5cm⁻¹)","P5(1.5cm⁻¹)","P3(2.5cm⁻¹)","P5(2.5cm⁻¹)","P3(3.5cm⁻¹)","P5(3.5cm⁻¹)","P3(4.5cm⁻¹)","P5(4.5cm⁻¹)"],"range":[1.3,1.3,1.8,1.8,1,1,1.4,1.4]}}
 }},
{"transform":[{"filter":{"field":"a","equal":1}}],
 "mark":{"type":"point","filled":false,"size":100,"color":"black","opacity":0},
 "encoding":{
  "shape":{"field":"s","type":"nominal",
   "scale":{"domain":["P3(1.0cm⁻¹)","P5(1.0cm⁻¹)","P3(1.5cm⁻¹)","P5(1.5cm⁻¹)","P3(2.5cm⁻¹)","P5(2.5cm⁻¹)","P3(3.5cm⁻¹)","P5(3.5cm⁻¹)","P3(4.5cm⁻¹)","P5(4.5cm⁻¹)"],
    "range":["M-3.6,0h0.25M-3.1,0h0.25M-2.6,0h0.25M-2.1,0h0.25M-1.6,0h0.25M-1.1,0h0.25M-0.6,0h0.25M-0.1,0h0.25M0.4,0h0.25M0.9,0h0.25M1.4,0h0.25M1.9,0h0.25M2.4,0h0.25M2.9,0h0.25M3.4,0h0.25","M-3.6,0H3.6","M0,-0.8A0.5,0.8 0 1,1 0,0.8A0.5,0.8 0 1,1 0,-0.8Z","M-3.6,0H3.6M0,-0.8A0.5,0.8 0 1,1 0,0.8A0.5,0.8 0 1,1 0,-0.8Z","M0,-0.8V0.8M-0.7,-0.4L0.7,0.4M-0.7,0.4L0.7,-0.4","M-3.6,0H3.6M0,-0.8V0.8M-0.7,-0.4L0.7,0.4M-0.7,0.4L0.7,-0.4","M0,-0.7V0.7M-0.7,0H0.7","M-3.6,0H3.6M0,-0.8V0.8","M0,-0.8L0.7,0.6L-0.7,0.6Z","M-3.6,0H3.6M0,-0.8L0.7,0.6L-0.7,0.6Z"]},
   "legend":{"orient":"none","legendX":31,"legendY":102,"title":null,"padding":0,"symbolSize":100,"symbolStrokeColor":"black","symbolFillColor":"transparent","symbolStrokeWidth":1.4,"symbolOpacity":1,"labelFont":"Liberation Serif","labelFontSize":15,"labelColor":"black","labelOffset":11,"rowPadding":2}}
 }},
{"mark":{"type":"rule","color":"#999999","strokeWidth":1},"encoding":{"x":{"datum":180},"y":{"value":0},"y2":{"value":282}}}
]
}
